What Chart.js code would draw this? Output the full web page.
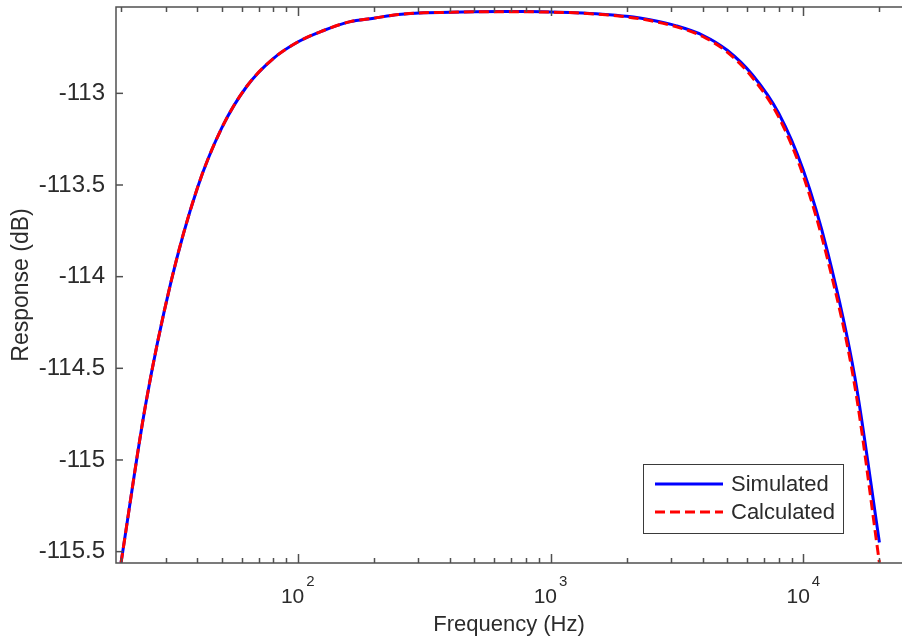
<!DOCTYPE html>
<html>
<head>
<meta charset="utf-8">
<script src="https://cdn.jsdelivr.net/npm/chart.js@4.4.1/dist/chart.umd.min.js"></script>
<style>
  html, body { margin: 0; padding: 0; background: #fff; overflow: hidden; }
  #wrap { position: relative; width: 902px; height: 639px; }
</style>
</head>
<body>
<div id="wrap"><canvas id="c"></canvas></div>
<script>
// Frequency points (Hz), one-third octave spacing
const freqs = [20, 25, 31.5, 40, 50, 63, 80, 100, 125, 160, 200, 250, 315, 400, 500, 630,
               800, 1000, 1250, 1600, 2000, 2500, 3150, 4000, 5000, 6300, 8000, 10000,
               12500, 16000, 20000];

// Response in dB
const simulated = [-115.56, -114.70, -114.03, -113.52, -113.19, -112.96, -112.81, -112.72,
                   -112.66, -112.61, -112.59, -112.57, -112.56, -112.558, -112.555, -112.554,
                   -112.554, -112.556, -112.56, -112.568, -112.58, -112.60, -112.632, -112.683,
                   -112.765, -112.90, -113.11, -113.42, -113.87, -114.55, -115.45];

const calculated = [-115.56, -114.70, -114.03, -113.52, -113.19, -112.96, -112.81, -112.72,
                    -112.66, -112.61, -112.59, -112.57, -112.56, -112.558, -112.555, -112.555,
                    -112.555, -112.557, -112.561, -112.57, -112.583, -112.604, -112.637, -112.69,
                    -112.775, -112.915, -113.13, -113.45, -113.91, -114.60, -115.56];

const seriesNames = ['Simulated', 'Calculated'];

const yTickValues = [-115.5, -115, -114.5, -114, -113.5, -113];
const yTickLabels = ['-115.5', '-115', '-114.5', '-114', '-113.5', '-113'];

const xMajorTicks = [100, 1000, 10000];
const xMajorExponents = ['2', '3', '4'];
const xMinorTicks = [20, 30, 40, 50, 60, 70, 80, 90,
                     200, 300, 400, 500, 600, 700, 800, 900,
                     2000, 3000, 4000, 5000, 6000, 7000, 8000, 9000, 20000];

const FONT = "'Liberation Sans', Arial, sans-serif";
const TEXT = '#2b2b2b';
const AXIS = '#505050';

// Axes box, inward ticks, power-of-ten labels and the legend
const framePlugin = {
  id: 'frame',
  afterDatasetsDraw(chart) {
    const { ctx, chartArea: a, scales: { x, y } } = chart;
    ctx.save();
    ctx.strokeStyle = AXIS;
    ctx.lineWidth = 1.5;
    ctx.beginPath();
    ctx.moveTo(a.right + 2, a.top);
    ctx.lineTo(a.left, a.top);
    ctx.lineTo(a.left, a.bottom);
    ctx.lineTo(a.right + 2, a.bottom);
    ctx.stroke();

    const tick = (v, len) => {
      const px = Math.round(x.getPixelForValue(v)) + 0.5;
      ctx.beginPath();
      ctx.moveTo(px, a.bottom); ctx.lineTo(px, a.bottom - len);
      ctx.moveTo(px, a.top); ctx.lineTo(px, a.top + len);
      ctx.stroke();
    };
    xMinorTicks.forEach(v => tick(v, 5));
    xMajorTicks.forEach(v => tick(v, 9));
    yTickValues.forEach(v => {
      const py = y.getPixelForValue(v);
      ctx.beginPath();
      ctx.moveTo(a.left, py); ctx.lineTo(a.left + 7, py);
      ctx.stroke();
    });

    // x tick labels as 10 with a raised exponent
    ctx.fillStyle = TEXT;
    ctx.textBaseline = 'alphabetic';
    ctx.textAlign = 'left';
    xMajorTicks.forEach((v, i) => {
      const px = x.getPixelForValue(v);
      ctx.font = '21px ' + FONT;
      const w1 = ctx.measureText('10').width;
      ctx.font = '15px ' + FONT;
      const w2 = ctx.measureText(xMajorExponents[i]).width;
      const start = px - (w1 + 2 + w2) / 2;
      ctx.font = '21px ' + FONT;
      ctx.fillText('10', start, 603);
      ctx.font = '15px ' + FONT;
      ctx.fillText(xMajorExponents[i], start + w1 + 2, 586);
    });

    // legend
    const lx = 643, ly = 464, lw = 200, lh = 69;
    ctx.fillStyle = '#fff';
    ctx.fillRect(lx, ly, lw, lh);
    ctx.strokeStyle = '#3a3a3a';
    ctx.lineWidth = 1;
    ctx.strokeRect(lx + 0.5, ly + 0.5, lw, lh);
    const rows = [{ ds: chart.data.datasets[0], yy: 484 }, { ds: chart.data.datasets[1], yy: 512 }];
    rows.forEach(r => {
      ctx.strokeStyle = r.ds.borderColor;
      ctx.lineWidth = 3;
      ctx.setLineDash(r.ds.borderDash || []);
      ctx.beginPath();
      ctx.moveTo(655, r.yy); ctx.lineTo(723, r.yy);
      ctx.stroke();
      ctx.setLineDash([]);
      ctx.fillStyle = TEXT;
      ctx.font = '22px ' + FONT;
      ctx.textBaseline = 'middle';
      ctx.fillText(r.ds.label, 731, r.yy + 1);
    });
    ctx.restore();
  }
};

new Chart(document.getElementById('c'), {
  type: 'line',
  data: {
    labels: freqs,
    datasets: [
      {
        label: seriesNames[0],
        data: freqs.map((f, i) => ({ x: f, y: simulated[i] })),
        borderColor: '#0000ff',
        borderWidth: 3,
        pointRadius: 0,
        cubicInterpolationMode: 'monotone',
        order: 2
      },
      {
        label: seriesNames[1],
        data: freqs.map((f, i) => ({ x: f, y: calculated[i] })),
        borderColor: '#ff0000',
        borderWidth: 3,
        borderDash: [10, 5],
        pointRadius: 0,
        cubicInterpolationMode: 'monotone',
        order: 1
      }
    ]
  },
  options: {
    responsive: true,
    maintainAspectRatio: false,
    animation: false,
    events: [],
    layout: { padding: { top: 7, right: 0, bottom: 0, left: 0 } },
    plugins: { legend: { display: false }, tooltip: { enabled: false } },
    scales: {
      x: {
        type: 'logarithmic',
        min: 19.1,
        max: 24570,
        grid: { display: false },
        border: { display: false },
        ticks: { display: false },
        title: {
          display: true,
          text: 'Frequency (Hz)',
          color: TEXT,
          font: { family: FONT, size: 22 },
          padding: { top: 0, bottom: 1 }
        },
        afterFit(s) { s.height = 76; s.paddingLeft = 0; s.paddingRight = 0; }
      },
      y: {
        type: 'linear',
        min: -115.562,
        max: -112.529,
        grid: { display: false, drawTicks: false },
        border: { display: false },
        afterBuildTicks(s) { s.ticks = yTickValues.map(v => ({ value: v })); },
        ticks: {
          padding: 11,
          color: TEXT,
          font: { family: FONT, size: 24 },
          callback: (v) => yTickLabels[yTickValues.indexOf(v)]
        },
        title: {
          display: true,
          text: 'Response (dB)',
          color: TEXT,
          font: { family: FONT, size: 23 },
          padding: { top: 8, bottom: 0 }
        },
        afterFit(s) { s.width = 116; s.paddingTop = 0; s.paddingBottom = 0; }
      }
    }
  },
  plugins: [framePlugin]
});
</script>
</body>
</html>
